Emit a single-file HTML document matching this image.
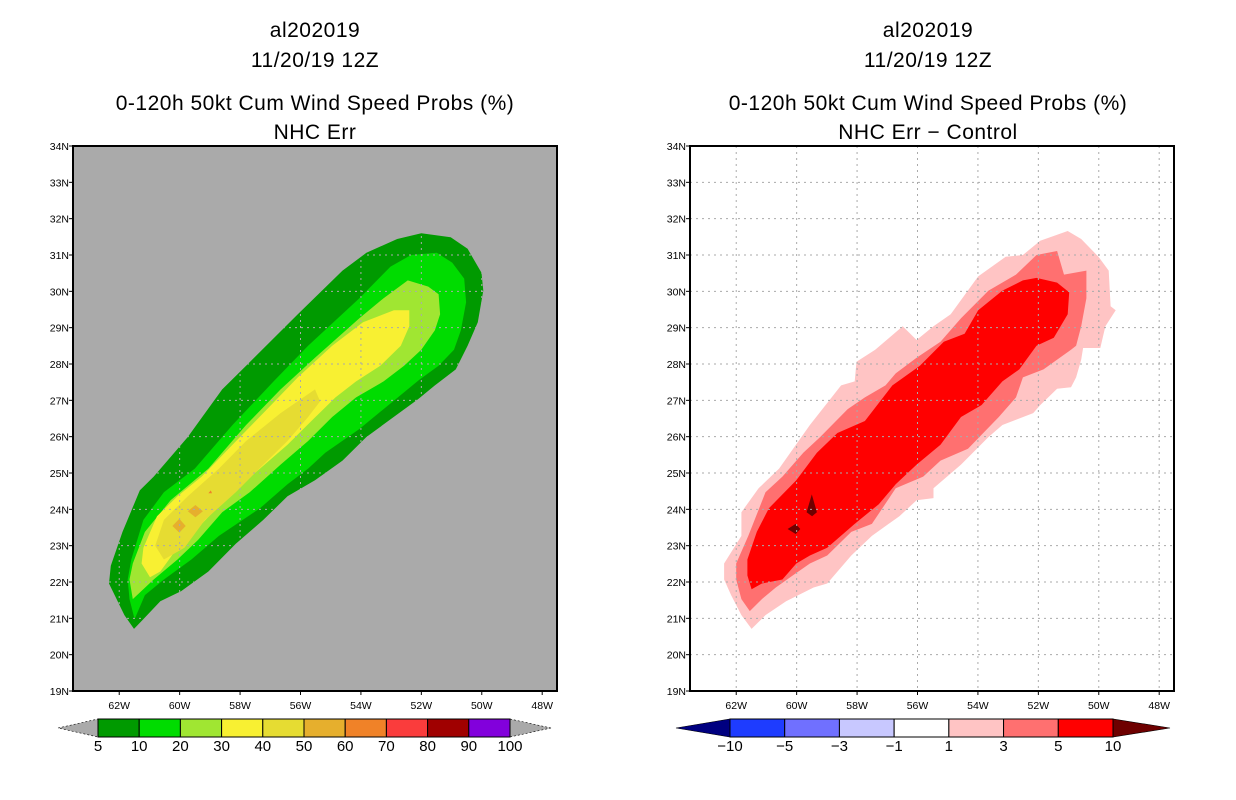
<!DOCTYPE html>
<html><head><meta charset="utf-8"><style>
body{margin:0;background:#fff;width:1236px;height:800px;overflow:hidden;font-family:"Liberation Sans",sans-serif}
svg{position:absolute;left:0;top:0}
</style></head><body>
<svg id="c" width="1236" height="800"></svg>
<script>
// ---- data (lon in degrees W, lat in degrees N) ----
const lonTicks=[62,60,58,56,54,52,50,48];
const latTicks=[19,20,21,22,23,24,25,26,27,28,29,30,31,32,33,34];
const probLevels=["5","10","20","30","40","50","60","70","80","90","100"];
const probColors=["#009a00","#00dc00","#a0e632","#f8f032","#e6dc32","#e6af2d","#f08228","#fa3c3c","#a00000","#8200dc"];
const diffLevels=["-10","-5","-3","-1","1","3","5","10"];
const diffColors=["#1e3cff","#7070ff","#c8c8ff","#ffffff","#ffc4c4","#ff7070","#ff0000"];
const L5Lon=[61.51,61.83,62.34,62.28,61.89,61.32,60.86,59.73,58.59,57.80,56.09,54.61,53.82,52.80,52.00,51.03,50.47,50.01,49.95,50.13,50.47,50.86,51.55,52.11,53.82,54.61,55.52,56.43,57.23,58.14,59.05,59.95,60.64,61.20];
const L5Lat=[20.71,21.09,21.96,22.45,23.38,24.52,24.90,25.99,27.30,27.95,29.37,30.57,31.06,31.44,31.60,31.49,31.17,30.51,30.02,29.15,28.50,27.85,27.41,27.03,25.99,25.34,24.80,24.36,23.71,23.05,22.29,21.75,21.47,20.98];
const L10Lon=[61.49,61.66,61.72,61.60,61.20,60.52,59.50,58.25,56.89,55.75,54.05,53.02,52.34,51.49,50.98,50.58,50.52,50.69,50.92,51.43,52.06,53.25,54.05,55.18,55.75,56.43,57.34,58.70,59.61,60.52,61.15];
const L10Lat=[20.98,21.53,22.07,22.62,23.71,24.47,25.12,26.32,27.52,28.50,29.81,30.68,31.00,31.06,30.79,30.35,29.70,28.93,28.39,27.95,27.57,26.76,26.21,25.56,25.12,24.69,24.03,23.27,22.62,22.07,21.64];
const L20Lon=[61.55,61.66,61.55,61.15,60.30,59.05,57.80,56.66,55.52,54.05,53.25,52.45,51.77,51.43,51.38,51.55,52.00,52.57,53.25,54.16,54.95,55.75,56.66,57.68,58.59,59.39,60.07,60.86];
const L20Lat=[21.53,22.07,22.51,23.38,24.25,25.12,26.32,27.30,28.17,29.26,29.81,30.30,30.13,29.92,29.37,28.93,28.39,27.95,27.52,27.08,26.54,25.88,25.23,24.47,23.92,23.16,22.62,22.07];
const L30Lon=[60.98,61.26,61.20,60.75,60.07,59.27,58.25,57.23,56.09,54.95,53.93,52.91,52.40,52.40,52.68,53.36,54.16,54.84,55.64,56.43,57.34,58.25,59.27,60.07,60.64];
const L30Lat=[22.13,22.51,22.94,23.81,24.36,24.90,25.78,26.65,27.63,28.50,29.15,29.48,29.48,29.04,28.50,27.95,27.52,27.08,26.43,25.78,25.12,24.47,23.60,22.94,22.29];
const L40Lon=[60.52,60.81,60.52,59.73,58.70,57.80,56.66,55.52,55.35,55.75,56.43,57.23,58.14,59.16,59.84];
const L40Lat=[22.62,23.00,23.71,24.36,25.12,25.88,26.65,27.30,26.97,26.54,25.88,25.23,24.47,23.71,22.94];
const L50aLon=[59.73,59.48,59.23,59.48];const L50aLat=[23.95,24.12,23.95,23.78];
const L50bLon=[60.24,60.01,59.80,60.01];const L50bLat=[23.54,23.74,23.54,23.36];
const L50cLon=[59.05,58.97,58.93];const L50cLat=[24.44,24.52,24.44];
const R1Lon=[61.49,61.83,62.17,62.40,62.40,61.83,61.83,61.26,60.58,59.56,58.53,58.08,58.02,57.40,56.49,56.03,55.47,54.90,53.99,53.08,52.51,51.94,51.03,50.58,50.01,49.67,49.61,49.44,49.78,49.95,50.52,50.58,50.75,50.92,51.38,51.94,52.17,53.19,53.65,54.56,55.47,55.47,56.03,56.60,57.51,58.19,58.99,59.44,60.35,61.03];
const R1Lat=[20.71,21.09,21.64,22.07,22.51,23.27,23.92,24.58,25.12,26.32,27.41,27.52,28.06,28.39,29.04,28.66,29.04,29.37,30.41,30.95,31.00,31.39,31.66,31.44,30.95,30.57,29.59,29.48,29.04,28.44,28.44,28.12,27.63,27.36,27.32,26.87,26.65,26.32,25.99,25.23,24.58,24.31,24.25,23.81,23.27,22.73,21.96,21.85,21.47,21.09];
const R3Lon=[61.55,61.83,62.00,62.00,61.60,61.03,60.47,59.78,59.22,58.31,57.74,57.06,56.72,56.03,55.24,54.56,53.65,52.74,52.06,51.38,51.15,50.41,50.41,50.58,50.75,50.92,51.83,52.51,52.74,53.31,54.33,55.24,55.81,56.72,57.51,58.19,58.99,59.56,60.13,60.69,61.15];
const R3Lat=[21.20,21.53,22.07,22.51,23.27,24.47,24.90,25.56,25.99,26.76,27.08,27.41,27.74,28.17,28.61,29.26,30.02,30.46,31.00,31.11,30.46,30.57,29.81,29.04,28.50,28.39,27.85,27.63,27.08,26.54,25.67,25.34,24.90,24.58,23.60,23.38,22.73,22.51,22.18,21.85,21.53];
const R5Lon=[61.49,61.63,61.63,61.32,60.92,60.01,59.33,58.65,57.74,56.83,55.92,55.13,54.44,53.99,53.19,52.51,52.06,51.38,50.98,51.03,51.49,52.06,52.63,53.19,53.88,54.56,55.24,56.03,56.72,57.28,58.08,58.99,59.56,60.01,60.47,61.15];
const R5Lat=[21.80,22.18,22.62,23.38,24.03,24.80,25.56,26.10,26.43,27.41,27.95,28.61,28.83,29.48,30.02,30.30,30.37,30.24,29.97,29.37,28.72,28.50,27.85,27.52,26.87,26.54,25.78,25.23,24.69,24.14,23.60,22.94,22.73,22.51,22.07,21.96];
const R10aLon=[59.50,59.67,59.49,59.33];const R10aLat=[24.41,23.92,23.81,23.92];
const R10bLon=[60.30,60.03,59.88,60.03];const R10bLat=[23.46,23.60,23.46,23.32];

const NS="http://www.w3.org/2000/svg";
const svg=document.getElementById('c');
function mk(tag,attrs,parent){const e=document.createElementNS(NS,tag);for(const k in attrs)e.setAttribute(k,attrs[k]);(parent||svg).appendChild(e);return e;}
const W0=63.53,W1=47.51,LAT0=19,LAT1=34,PW=484,PH=545,TOP=146;
function xs(left){return w=>left+(W0-w)/(W0-W1)*PW;}
function ys(lat){return TOP+(LAT1-lat)/(LAT1-LAT0)*PH;}
function pts(x,lons,lats){return lons.map((w,i)=>x(w).toFixed(1)+','+ys(lats[i]).toFixed(1)).join(' ');}

function panel(left,cx,sub,bg,layers,clipLayer,bar){
  const x=xs(left);
  const titles=["al202019","11/20/19 12Z","0-120h 50kt Cum Wind Speed Probs (%)",sub];
  const ty=[37,67,110,139];
  titles.forEach((t,i)=>{const e=mk('text',{x:cx,y:ty[i],'text-anchor':'middle','font-size':21,fill:'#000','letter-spacing':'0.5'});e.textContent=t;
    
    });
  const bgr=mk('rect',{x:left,y:TOP,width:PW,height:PH,fill:bg});
  
  
  layers.forEach(L=>{const p=mk('polygon',{points:pts(x,L[0],L[1]),fill:L[2]});
    
    });
  let clip='';
  if(clipLayer){const id='clip'+left;const cp=mk('clipPath',{id:id});mk('polygon',{points:pts(x,clipLayer[0],clipLayer[1])},cp);clip='url(#'+id+')';}
  const g=mk('g',clip?{'clip-path':clip}:{});
  
  
  lonTicks.forEach(w=>mk('line',{x1:x(w),x2:x(w),y1:TOP,y2:TOP+PH,stroke:'#aaa','stroke-dasharray':'2,4'},g));
  latTicks.forEach(l=>mk('line',{x1:left,x2:left+PW,y1:ys(l),y2:ys(l),stroke:'#aaa','stroke-dasharray':'2,4'},g));
  const fr=mk('rect',{x:left,y:TOP,width:PW,height:PH,fill:'none',stroke:'#000','stroke-width':2});
  
  
  latTicks.forEach(l=>{mk('line',{x1:left-4,x2:left,y1:ys(l),y2:ys(l),stroke:'#000'});
    const t=mk('text',{x:left-4,y:ys(l)+4,'text-anchor':'end','font-size':10.5,fill:'#000'});t.textContent=l+'N';
    
    });
  lonTicks.forEach(w=>{mk('line',{x1:x(w),x2:x(w),y1:TOP+PH,y2:TOP+PH+4,stroke:'#000'});
    const t=mk('text',{x:x(w),y:TOP+PH+18,'text-anchor':'middle','font-size':10.5,fill:'#000'});t.textContent=w+'W';
    
    });
  // colorbar
  const [b0,b1,tl,tr,cols,labs,lc,rc]=bar;
  const bw=(b1-b0)/cols.length;
  mk('polygon',{points:`${tl},728 ${b0},719 ${b0},737`,fill:lc,stroke:'#000','stroke-width':0.6,'stroke-dasharray':lc=='#aaaaaa'?'2,2':'none'});
  mk('polygon',{points:`${tr},728 ${b1},719 ${b1},737`,fill:rc,stroke:'#000','stroke-width':0.6,'stroke-dasharray':rc=='#aaaaaa'?'2,2':'none'});
  cols.forEach((c,i)=>{const r=mk('rect',{x:b0+i*bw,y:719,width:bw,height:18,fill:c,stroke:'#000','stroke-width':1});
    
    });
  labs.forEach((s,i)=>{const t=mk('text',{x:b0+i*bw,y:751,'text-anchor':'middle','font-size':15,fill:'#000'});t.textContent=s.replace('-','\u2212');
    
    });
}
panel(73,315,"NHC Err","#aaaaaa",[
  [L5Lon,L5Lat,probColors[0]],[L10Lon,L10Lat,probColors[1]],[L20Lon,L20Lat,probColors[2]],
  [L30Lon,L30Lat,probColors[3]],[L40Lon,L40Lat,probColors[4]],
  [L50aLon,L50aLat,probColors[5]],[L50bLon,L50bLat,probColors[5]],[L50cLon,L50cLat,probColors[6]]
],[L5Lon,L5Lat],[98,510,58,551,probColors,probLevels,'#aaaaaa','#aaaaaa']);
panel(690,928,"NHC Err \u2212 Control","#ffffff",[
  [R1Lon,R1Lat,diffColors[4]],[R3Lon,R3Lat,diffColors[5]],[R5Lon,R5Lat,diffColors[6]],
  [R10aLon,R10aLat,'#6e0000'],[R10bLon,R10bLat,'#6e0000']
],null,[730,1113,676,1170,diffColors,diffLevels,'#000080','#6e0000']);
</script>
</body></html>
